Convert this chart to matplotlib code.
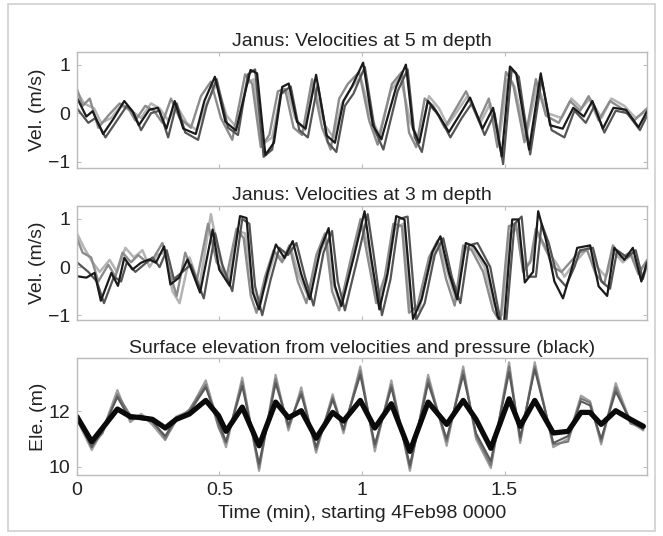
import matplotlib
matplotlib.use("Agg")
import matplotlib.pyplot as plt
from matplotlib.patches import Rectangle

plt.rcParams['font.family'] = ['Liberation Sans', 'DejaVu Sans']

# --- velocities at 5 m depth (time in min, vel in m/s) ---
v5_black_t = [0, .033, .055, .092, .129, .166, .195, .217, .254, .284, .314, .343, .373, .417, .447,
              .484, .521, .558, .609, .632, .661, .691, .72, .743, .772, .802, .839, .876, .905, .935,
              .964, 1.004, 1.038, 1.068, 1.12, 1.154, 1.179, 1.201, 1.231, 1.26, 1.305, 1.342, 1.379, 1.423, 1.46,
              1.49, 1.519, 1.541, 1.586, 1.627, 1.66, 1.704, 1.741, 1.778, 1.808, 1.845, 1.882, 1.926, 1.97, 2.0]
v5_black = [.32, -.07, .04, -.43, -.11, .25, .04, -.25, .07, .11, -.32, .25, -.32, -.43, .25,
            .75, -.18, -.36, .89, .82, -.86, -.61, .54, .61, -.18, -.32, .79, -.46, -.61, .25,
            .54, 1.04, -.25, -.54, .54, 1.0, -.32, -.61, .25, .04, -.39, -.04, .32, -.32, .11,
            -.89, .96, .82, -.75, .82, -.25, -.32, .11, -.07, .25, -.32, .11, .07, -.29, .04]

v5_dark_t = [0, .04, .065, .1, .135, .175, .2, .225, .26, .29, .32, .35, .38, .425, .455,
             .49, .53, .565, .6, .625, .655, .685, .715, .75, .78, .81, .845, .88, .91, .94,
             .97, 1.01, 1.045, 1.075, 1.125, 1.16, 1.185, 1.21, 1.24, 1.27, 1.31, 1.35, 1.385, 1.43, 1.465,
             1.495, 1.525, 1.55, 1.59, 1.63, 1.665, 1.71, 1.745, 1.785, 1.815, 1.85, 1.89, 1.93, 1.975, 2.0]
v5_dark = [.1, -.2, -.1, -.5, -.2, .15, 0, -.35, 0, .05, -.5, .2, -.4, -.55, .15,
           .7, -.3, -.45, .8, .9, -.9, -.75, .4, .55, -.35, -.5, .6, -.6, -.8, .15,
           .4, .95, -.35, -.75, .45, .9, -.5, -.8, .15, -.05, -.5, -.1, .2, -.45, 0,
           -1.05, .9, .75, -.85, .7, -.35, -.5, .05, -.2, .15, -.4, .05, 0, -.35, -.05]

v5_mid_t = [0, .02, .045, .075, .11, .15, .18, .205, .24, .27, .30, .33, .36, .40, .435,
            .47, .505, .545, .59, .615, .645, .675, .705, .73, .76, .79, .825, .86, .89, .92,
            .95, .99, 1.025, 1.055, 1.105, 1.14, 1.165, 1.19, 1.22, 1.25, 1.29, 1.33, 1.365, 1.41, 1.445,
            1.475, 1.505, 1.53, 1.57, 1.61, 1.645, 1.69, 1.73, 1.765, 1.795, 1.83, 1.87, 1.91, 1.955, 2.0]
v5_mid = [.5, .15, .3, -.3, -.05, .2, .1, -.15, .15, .05, -.2, .3, -.1, -.3, .35,
          .65, -.1, -.55, .8, .6, -.7, -.45, .45, .5, -.3, -.45, .7, -.3, -.75, .3,
          .6, .85, -.15, -.65, .6, .85, -.4, -.7, .3, .15, -.3, .1, .45, -.15, .3,
          -.7, .85, .6, -.6, .7, -.05, -.2, .25, .05, .35, -.15, .25, .1, -.15, .1]

v5_light_t = [0, .025, .06, .085, .12, .155, .19, .225, .26, .29, .32, .35, .385, .42, .455,
              .49, .525, .56, .595, .62, .65, .685, .715, .74, .765, .8, .83, .87, .9, .93,
              .96, .995, 1.03, 1.06, 1.1, 1.135, 1.17, 1.2, 1.235, 1.27, 1.3, 1.335, 1.37, 1.415, 1.45,
              1.48, 1.51, 1.535, 1.575, 1.615, 1.65, 1.7, 1.735, 1.77, 1.8, 1.84, 1.875, 1.92, 1.96, 2.0]
v5_light = [.45, .2, .1, -.2, -.1, .15, .05, -.1, .2, .1, -.15, .15, -.2, -.35, .2,
            .6, -.05, -.3, .6, .7, -.65, -.5, .4, .45, -.1, -.35, .6, -.25, -.5, .2,
            .5, .75, -.05, -.45, .45, .75, -.2, -.55, .35, .1, -.25, .05, .35, -.2, .2,
            -.6, .7, .55, -.5, .6, 0, -.1, .3, .1, .3, -.1, .3, .15, -.1, .05]

# --- velocities at 3 m depth ---
v3_black_t = [0, .033, .062, .084, .121, .144, .166, .195, .225, .254, .277, .306, .328, .358, .388,
              .432, .476, .499, .536, .572, .595, .617, .639, .669, .698, .728, .757, .787, .817, .854,
              .883, .905, .928, .972, 1.009, 1.031, 1.061, 1.09, 1.12, 1.149, 1.179, 1.209, 1.246, 1.275, 1.305,
              1.334, 1.364, 1.393, 1.438, 1.475, 1.497, 1.527, 1.549, 1.571, 1.6, 1.618, 1.645, 1.675, 1.705, 1.735,
              1.755, 1.8, 1.83, 1.86, 1.885, 1.92, 1.95, 1.98, 2.0]
v3_black = [-.19, -.22, -.12, -.7, -.12, -.39, .19, -.05, .09, .16, .09, .43, -.36, -.22, .16,
            -.53, .78, -.05, -.39, 1.06, 1.02, -.53, -.88, -.12, .47, .19, .54, -.15, -.67, .37,
            .81, -.39, -.81, .23, 1.16, .23, -.88, -.12, 1.06, .99, -1.08, -.67, .3, .64, -.12,
            -.67, .5, .43, .02, -1.01, -1.26, .99, .99, -.32, -.1, 1.16, .57, -.3, -.65, -.05,
            .4, .45, -.4, -.6, .4, .15, .4, -.3, .1]

v3_dark_t = [0, .04, .07, .095, .13, .155, .175, .205, .235, .265, .29, .315, .34, .37, .4,
             .445, .485, .51, .545, .58, .605, .625, .65, .68, .71, .74, .77, .8, .83, .865,
             .895, .915, .94, .985, 1.02, 1.04, 1.07, 1.1, 1.13, 1.16, 1.19, 1.22, 1.255, 1.285, 1.315,
             1.345, 1.375, 1.405, 1.45, 1.485, 1.505, 1.535, 1.56, 1.58, 1.61, 1.63, 1.655, 1.685, 1.715, 1.745,
             1.765, 1.81, 1.84, 1.87, 1.895, 1.93, 1.96, 1.985, 2.0]
v3_dark = [.1, -.1, -.3, -.75, -.2, -.3, .1, -.1, .05, .2, 0, .35, -.25, -.1, .05,
           -.65, .7, .05, -.5, 1.0, .9, -.4, -1.0, -.25, .4, .25, .5, -.2, -.8, .3,
           .75, -.3, -.9, .2, 1.1, .3, -1.0, -.25, 1.0, 1.05, -1.1, -.75, .25, .6, -.2,
           -.75, .45, .5, 0, -1.1, -1.2, .9, 1.05, -.2, -.2, .9, .5, -.2, -.4, 0,
           .35, .4, -.3, -.45, .35, .2, .35, -.25, .05]

v3_mid_t = [0, .02, .05, .075, .11, .135, .16, .19, .215, .245, .27, .3, .325, .35, .38,
            .42, .46, .49, .525, .56, .585, .61, .63, .66, .69, .72, .745, .775, .805, .84,
            .87, .895, .92, .96, .995, 1.02, 1.05, 1.08, 1.11, 1.14, 1.165, 1.195, 1.235, 1.265, 1.295,
            1.325, 1.355, 1.385, 1.425, 1.46, 1.485, 1.515, 1.54, 1.565, 1.59, 1.61, 1.64, 1.67, 1.7, 1.73,
            1.76, 1.79, 1.82, 1.85, 1.88, 1.91, 1.94, 1.97, 2.0]
v3_mid = [.6, .3, .2, -.3, .05, -.2, .3, .1, .25, .1, .2, .5, -.1, -.6, .3,
          -.3, .9, .1, -.2, .8, .6, -.6, -.95, -.2, .35, .1, .45, -.3, -.75, .25,
          .7, -.5, -.9, .15, 1.0, .2, -.75, -.2, .9, .85, -.95, -.8, .2, .55, -.25,
          -.8, .45, .35, -.1, -.9, -1.15, .85, .9, -.1, .1, .8, .45, 0, -.1, .1,
          .3, .35, -.15, -.35, .45, .2, .3, -.15, .15]

v3_light_t = [0, .025, .055, .08, .115, .14, .17, .2, .23, .255, .28, .31, .335, .36, .395,
              .43, .47, .5, .53, .565, .59, .615, .635, .665, .695, .725, .75, .78, .81, .845,
              .875, .9, .925, .965, 1.0, 1.025, 1.055, 1.085, 1.115, 1.145, 1.17, 1.2, 1.24, 1.27, 1.3,
              1.33, 1.36, 1.39, 1.43, 1.465, 1.49, 1.52, 1.545, 1.57, 1.595, 1.615, 1.645, 1.68, 1.71, 1.74,
              1.77, 1.8, 1.825, 1.855, 1.885, 1.915, 1.945, 1.975, 2.0]
v3_light = [.7, .4, .1, -.1, .15, -.1, .4, .2, .35, 0, .25, .3, -.5, -.75, .2,
            -.4, 1.1, .2, -.3, .75, .7, -.4, -.8, -.3, .3, .15, .4, -.2, -.6, .2,
            .6, -.35, -.8, .1, .9, .35, -.7, -.3, .8, .9, -.85, -.9, .1, .5, -.1,
            -.7, .35, .4, 0, -.8, -1.0, .7, .8, 0, .15, .7, .35, .1, -.2, .05,
            .25, .45, 0, -.2, .3, .1, .25, -.05, .1]

# --- surface elevation (m) ---
ele_t = [0, .052, .09, .142, .187, .226, .265, .31, .348, .394, .452, .497, .523, .58, .639,
         .697, .742, .787, .839, .897, .935, .994, 1.045, 1.103, 1.168, 1.232, 1.297, 1.355, 1.4, 1.452,
         1.516, 1.555, 1.606, 1.671, 1.723, 1.768, 1.8, 1.839, 1.89, 1.942, 1.987]
ele_pressure = [11.8, 10.9, 11.39, 12.07, 11.8, 11.76, 11.7, 11.39, 11.7, 11.89, 12.38, 11.83, 11.27, 12.14, 10.75,
                12.32, 11.76, 12.01, 11.02, 11.95, 11.64, 12.38, 11.39, 12.26, 10.55, 12.32, 11.52, 12.38, 11.7, 10.66,
                12.44, 11.45, 12.38, 11.21, 11.27, 11.95, 11.95, 11.52, 12.01, 11.7, 11.45]
ele_vel1 = [11.7, 10.6, 11.3, 12.75, 11.6, 11.9, 11.5, 10.95, 11.8, 12.0, 13.1, 11.5, 10.7, 13.2, 9.85,
            13.3, 11.3, 12.85, 10.5, 12.6, 11.2, 13.6, 10.55, 13.1, 9.85, 13.3, 10.75, 13.6, 11.0, 9.95,
            13.75, 10.85, 13.75, 10.7, 11.0, 12.55, 12.35, 10.8, 13.0, 11.6, 11.3]
ele_vel2 = [11.75, 10.7, 11.35, 12.5, 11.7, 11.8, 11.6, 11.1, 11.75, 11.95, 12.85, 11.6, 10.9, 12.9, 10.1,
            13.0, 11.5, 12.6, 10.7, 12.4, 11.35, 13.3, 10.8, 12.85, 10.05, 13.0, 11.0, 13.3, 11.2, 10.2,
            13.4, 11.05, 13.5, 10.85, 11.1, 12.35, 12.2, 11.0, 12.7, 11.65, 11.35]
ele_vel3 = [11.85, 10.75, 11.2, 12.6, 11.85, 11.7, 11.65, 11.0, 11.65, 12.05, 12.95, 11.4, 10.85, 13.05, 9.95,
            13.15, 11.4, 12.7, 10.6, 12.5, 11.3, 13.45, 10.7, 12.95, 9.95, 13.15, 10.9, 13.45, 11.1, 10.05,
            13.6, 10.95, 13.6, 10.8, 10.9, 12.45, 12.3, 10.9, 12.85, 11.55, 11.4]

fig = plt.figure(figsize=(6.63, 5.36), dpi=100)
fig.patches.append(Rectangle((0.012, 0.01), 0.976, 0.982, transform=fig.transFigure,
                             fill=False, edgecolor='#cfcfcf', linewidth=1.2))

ax1 = fig.add_axes([0.116, 0.6866, 0.860, 0.2164])
ax2 = fig.add_axes([0.116, 0.403, 0.860, 0.2127])
ax3 = fig.add_axes([0.116, 0.1138, 0.860, 0.218])

fs = 14
txt = '#222222'
kw = dict(solid_joinstyle='round', solid_capstyle='round')

ax1.plot(v5_light_t, v5_light, color='#b4b4b4', lw=1.8, **kw)
ax1.plot(v5_mid_t, v5_mid, color='#8c8c8c', lw=1.7, **kw)
ax1.plot(v5_dark_t, v5_dark, color='#555555', lw=1.6, **kw)
ax1.plot(v5_black_t, v5_black, color='#1a1a1a', lw=1.6, **kw)
ax1.set_ylim(-1.13, 1.26)
ax1.set_yticks([-1, 0, 1])
ax1.set_title('Janus: Velocities at 5 m depth', fontsize=fs, color=txt, pad=4)
ax1.set_ylabel('Vel. (m/s)', fontsize=fs, color=txt)

ax2.plot(v3_light_t, v3_light, color='#b4b4b4', lw=1.8, **kw)
ax2.plot(v3_mid_t, v3_mid, color='#8c8c8c', lw=1.7, **kw)
ax2.plot(v3_dark_t, v3_dark, color='#555555', lw=1.6, **kw)
ax2.plot(v3_black_t, v3_black, color='#1a1a1a', lw=1.6, **kw)
ax2.set_ylim(-1.1, 1.27)
ax2.set_yticks([-1, 0, 1])
ax2.set_title('Janus: Velocities at 3 m depth', fontsize=fs, color=txt, pad=4)
ax2.set_ylabel('Vel. (m/s)', fontsize=fs, color=txt)

ax3.plot(ele_t, ele_vel1, color='#a0a0a0', lw=1.6, **kw)
ax3.plot(ele_t, ele_vel3, color='#7a7a7a', lw=1.5, **kw)
ax3.plot(ele_t, ele_vel2, color='#5a5a5a', lw=1.5, **kw)
ax3.plot(ele_t, ele_pressure, color='#0a0a0a', lw=3.8, **kw)
ax3.set_ylim(9.7, 13.9)
ax3.set_yticks([10, 12])
ax3.set_title('Surface elevation from velocities and pressure (black)', fontsize=fs, color=txt, pad=4)
ax3.set_ylabel('Ele. (m)', fontsize=fs, color=txt)
ax3.set_xlabel('Time (min), starting 4Feb98 0000', fontsize=fs, color=txt, labelpad=4)

for ax in (ax1, ax2, ax3):
    ax.set_xlim(0, 2.0)
    ax.set_xticks([0, 0.5, 1, 1.5])
    ax.set_xticklabels(['0', '0.5', '1', '1.5'])
    ax.tick_params(direction='in', top=True, right=True, length=3, width=0.8,
                   color='#bbbbbb', labelsize=fs, labelcolor=txt, pad=5)
    for s in ax.spines.values():
        s.set_color('#bbbbbb')
        s.set_linewidth(1.0)
    ax.yaxis.labelpad = 1
for ax in (ax1, ax2):
    ax.tick_params(labelbottom=False)

fig.savefig('out.png', dpi=100)
